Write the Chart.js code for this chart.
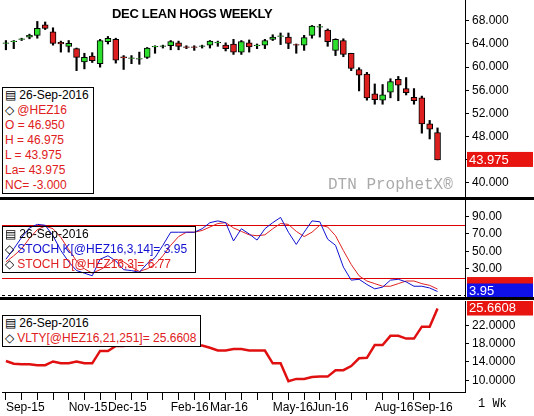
<!DOCTYPE html>
<html><head><meta charset="utf-8">
<script src="https://cdn.jsdelivr.net/npm/chart.js@4.4.0/dist/chart.umd.min.js"></script>
<style>
body{margin:0;background:#fff;font-family:"Liberation Sans",Arial,sans-serif;}
#wrap{position:relative;width:534px;height:416px;overflow:hidden;background:#fff;}
.pn{position:absolute;left:0;width:534px;}
.box{position:absolute;left:2px;background:#fff;border:1px solid #000;font-size:12px;line-height:15px;padding:0 2px;white-space:nowrap;}
.r{color:#e02020}.b{color:#1010d0}
.sep{position:absolute;left:0;width:534px;height:3px;background:#000;}
</style></head><body>
<div id="wrap">
  <div class="pn" style="top:0;height:198px"><canvas id="c1" width="534" height="198"></canvas></div>
  <div class="pn" style="top:200px;height:98px"><canvas id="c2" width="534" height="98"></canvas></div>
  <div class="pn" style="top:301px;height:115px"><canvas id="c3" width="534" height="115"></canvas></div>
  <div class="sep" style="top:197px"></div>
  <div class="sep" style="top:297px"></div>
  <div style="position:absolute;left:112px;top:6px;font-weight:bold;font-size:13px;letter-spacing:-0.3px">DEC LEAN HOGS WEEKLY</div>
  <div style="position:absolute;left:328px;top:176px;font-family:'Liberation Mono',monospace;color:#aaa;font-size:16px">DTN ProphetX®</div>
  <div class="box" style="top:87px;width:86px">
    <div>&#9636; 26-Sep-2016</div><div><span>&#9671;</span> <span class="r">@HEZ16</span></div>
    <div class="r">O = 46.950</div><div class="r">H = 46.975</div><div class="r">L = 43.975</div>
    <div class="r">La= 43.975</div><div class="r">NC= -3.000</div>
  </div>
  <div class="box" style="top:226px;width:188px;background:transparent">
    <div>&#9636; 26-Sep-2016</div>
    <div>&#9671; <span class="b">STOCH K[@HEZ16,3,14]= 3.95</span></div>
    <div>&#9671; <span class="r">STOCH D[@HEZ16,3]= 6.77</span></div>
  </div>
  <div class="box" style="top:315px;width:193px">
    <div>&#9636; 26-Sep-2016</div>
    <div>&#9671; <span class="r">VLTY[@HEZ16,21,251]= 25.6608</span></div>
  </div>
  <div style="position:absolute;left:478px;top:397px;font-family:'Liberation Mono',monospace;font-size:12px">1 Wk</div>
</div>
<script>
const monthLabels = {0:'Sep-15', 8:'Nov-15', 13:'Dec-15', 21:'Feb-16', 26:'Mar-16', 34:'May-16', 39:'Jun-16', 47:'Aug-16', 52:'Sep-16'};
const open  = [64.1,64.4,64.8,65.2,65.5,67.3,66.1,64.3,63.6,63.2,60.9,61.9,60.6,64.4,64.8,61.8,61.5,61.4,61.7,63.5,63.6,63.7,64.2,63.5,63.5,63.6,63.8,64.2,63.8,64.0,62.6,64.2,63.7,63.8,64.8,65.3,65.2,63.9,63.8,65.5,66.9,66.4,62.9,64.6,62.4,59.6,58.8,55.4,54.3,55.7,57.9,56.3,54.8,54.7,50.2,48.7];
const high  = [64.6,64.6,65.0,65.7,67.9,67.8,66.8,64.5,64.6,63.3,62.4,62.5,64.8,65.3,65.0,62.0,62.0,62.6,63.4,63.7,63.8,64.6,64.5,63.7,63.7,63.8,64.6,64.5,64.2,64.8,64.6,64.7,64.0,64.8,65.6,65.9,65.9,64.0,65.5,67.2,67.4,66.6,64.9,64.9,62.4,59.9,59.1,57.1,57.0,58.0,58.4,58.2,56.3,55.0,50.8,49.5];
const low   = [63.0,63.2,64.6,64.9,65.0,66.5,63.8,62.6,62.6,59.4,59.7,60.8,60.0,64.0,60.7,59.6,60.6,60.5,61.5,62.4,63.3,63.0,63.0,63.2,62.9,63.3,63.3,63.6,62.8,62.2,62.2,62.6,63.2,63.2,64.6,63.9,63.2,62.4,62.9,65.0,65.2,63.6,62.0,61.8,59.4,55.9,54.3,53.6,53.6,54.7,54.2,55.2,53.6,48.6,47.6,43.975];
const close = [64.2,64.5,64.9,65.5,66.7,66.7,64.1,64.0,64.1,61.7,61.7,61.1,64.6,65.0,61.2,61.6,61.6,61.5,63.3,63.6,63.7,64.4,63.6,63.4,63.4,63.7,64.5,64.3,63.2,62.6,64.4,63.5,63.8,64.6,65.2,65.4,64.1,63.8,65.1,67.1,67.0,64.4,64.8,62.2,59.8,58.6,54.7,54.4,55.2,57.5,56.9,55.6,54.2,50.2,49.3,43.975];
const stochK = [41,53,66,77,81,80,68,51,38,28,25,22,41,45,39,29,28,26,36,43,57,72,72,72,72,76,83,85,83,62,76,70,63,76,83,89,72,58,72,85,84,64,57,32,17,18,12,7,9,17,18,15,10,10,8,3.95];
const stochD = [38,45,53,65,75,79,76,66,52,39,30,25,29,34,41,38,32,27,30,35,45,57,67,72,72,74,78,82,83,77,73,69,68,69,76,82,81,73,67,72,80,78,68,51,35,22,16,13,10,10,13,16,16,13,11,6.77];
const vlty = [14.2,13.6,13.5,13.5,13.3,13.3,14.1,13.7,13.7,14.1,13.7,13.7,16.4,16.4,17.5,17.5,17.8,17.8,17.8,17.8,17.8,17.8,17.8,17.8,17.6,17.6,17.1,16.5,16.5,16.8,16.8,16.5,16.5,16.5,13.7,13.7,9.8,10.3,10.3,10.7,10.8,10.8,12.2,12.2,13.1,14.8,14.9,17.7,17.7,19.7,19.7,19.1,19.1,21.7,21.7,25.66];

const N = 59; // 56 weeks + blank space on right
const labels = Array.from({length: N}, (_, i) => monthLabels[i] || '');
const pad = a => a.concat(Array(N - a.length).fill(null));
const font = {family: 'Liberation Sans, Arial', size: 12};

function yAxis(min, max, dec, ticks) {
  return {
    position: 'right', min, max,
    afterFit: s => { s.width = 69; s.paddingTop = 0; s.paddingBottom = 0; },
    afterBuildTicks: s => { s.ticks = ticks.map(v => ({value: v})); },
    border: {display: true, color: '#000', width: 1},
    grid: {drawOnChartArea: false, tickLength: 4, color: '#000'},
    ticks: {color: '#000', font, padding: 3, callback: v => v.toFixed(dec)}
  };
}
function xAxis(show) {
  if (!show) return {offset: true, display: false};
  return {
    offset: true, display: true,
    afterFit: s => { s.height = 24; s.paddingLeft = 0; s.paddingRight = 0; },
    border: {color: '#000'},
    grid: {drawOnChartArea: false, tickLength: 8, color: c => (c.index % 2 === 0 && c.index < 56) ? '#000' : 'rgba(0,0,0,0)'},
    ticks: {autoSkip: false, maxRotation: 0, align: 'start', color: '#000', font, padding: 0}
  };
}

function tagPlugin(items) {
  return {id: 'tags', afterDraw(chart) {
    const ctx = chart.ctx, ys = chart.scales.y;
    items.forEach(it => {
      const y = ys.getPixelForValue(it.v) + (it.dy || 0);
      ctx.fillStyle = it.bg;
      ctx.fillRect(chart.chartArea.right + 2, y - 8, 66, 15);
      if (it.text) {
        ctx.fillStyle = '#fff'; ctx.font = '13px Liberation Sans, Arial';
        ctx.textBaseline = 'middle'; ctx.textAlign = 'left';
        ctx.fillText(it.text, chart.chartArea.right + 4, y);
      }
    });
  }};
}
const base = {responsive: false, animation: false, maintainAspectRatio: false,
  layout: {padding: {left: 2, top: 0, right: 0, bottom: 0}},
  plugins: {legend: {display: false}, tooltip: {enabled: false}}};

const up = close.map((c, i) => c >= open[i]);
new Chart(document.getElementById('c1'), {
  type: 'bar',
  data: {labels, datasets: [
    {data: pad(open.map((o, i) => [o, close[i]])), backgroundColor: up.map(u => u ? '#2ee02e' : '#dd1f1f'),
     borderColor: '#000', borderWidth: 1, borderSkipped: false, barThickness: 6, grouped: false, order: 0},
    {data: pad(low.map((l, i) => [l, high[i]])), backgroundColor: '#000', barThickness: 1.5, grouped: false, order: 1}
  ]},
  options: Object.assign({}, base, {scales: {x: xAxis(false), y: yAxis(37.4, 71.6, 3, [40,44,48,52,56,60,64,68])}}),
  plugins: [tagPlugin([{v: 43.975, bg: '#e8140f', text: '43.975'}])]
});

new Chart(document.getElementById('c2'), {
  type: 'line',
  data: {labels, datasets: [
    {data: pad(stochK), borderColor: '#1010d0', borderWidth: 1, pointRadius: 0, tension: 0},
    {data: pad(stochD), borderColor: '#e02020', borderWidth: 1, pointRadius: 0, tension: 0}
  ]},
  options: Object.assign({}, base, {scales: {x: xAxis(false), y: yAxis(-3.5, 109, 2, [30,50,70,90])}}),
  plugins: [{id: 'lvl', beforeDatasetsDraw(chart) {
    const ctx = chart.ctx, ys = chart.scales.y, a = chart.chartArea;
    ctx.save();
    ctx.strokeStyle = '#d00'; ctx.lineWidth = 1;
    [80, 20].forEach(v => { const y = Math.round(ys.getPixelForValue(v)) + 0.5; ctx.beginPath(); ctx.moveTo(a.left, y); ctx.lineTo(a.right, y); ctx.stroke(); });
    ctx.strokeStyle = '#000'; ctx.setLineDash([3, 3]);
    const y0 = Math.round(ys.getPixelForValue(0)) + 0.5;
    ctx.beginPath(); ctx.moveTo(a.left, y0); ctx.lineTo(a.right, y0); ctx.stroke();
    ctx.restore();
  }}, tagPlugin([{v: 6.77, bg: '#e8140f', dy: -4}, {v: 3.95, bg: '#1010e8', text: '3.95'}])]
});

new Chart(document.getElementById('c3'), {
  type: 'line',
  data: {labels, datasets: [
    {data: pad(vlty), borderColor: '#e01010', borderWidth: 2.5, pointRadius: 0, tension: 0}
  ]},
  options: Object.assign({}, base, {scales: {x: xAxis(true), y: yAxis(7.44, 27.3, 4, [10,14,18,22])}}),
  plugins: [tagPlugin([{v: 25.66, bg: '#e8140f', text: '25.6608'}])]
});
</script>
</body></html>
